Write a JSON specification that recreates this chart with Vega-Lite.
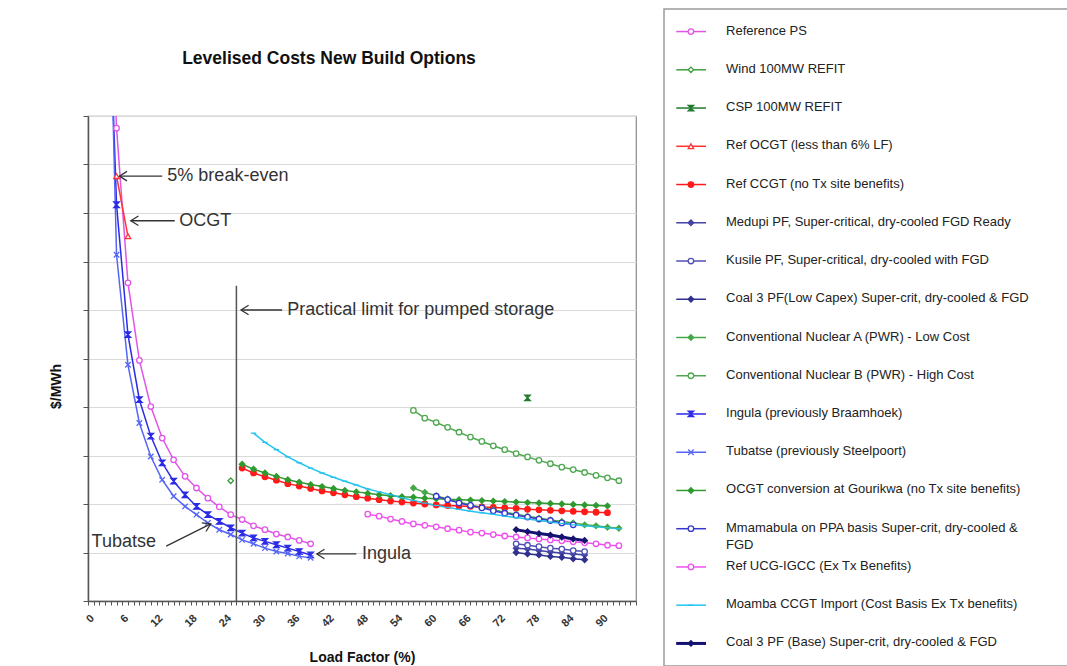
{
  "$schema": "https://vega.github.io/schema/vega-lite/v6.json",
  "background": "white",
  "padding": {"left": 48, "top": 8, "right": 2, "bottom": 0},
  "config": {
    "font": "Liberation Sans",
    "view": {"stroke": "#8a8a8a", "strokeWidth": 1.2},
    "axisX": {"labelOverlap": false},
    "concat": {"spacing": 18}
  },
  "datasets": {
    "pts": [
      {"series": "Reference PS", "load": 3, "cost": 1600},
      {"series": "Reference PS", "load": 5, "cost": 975},
      {"series": "Reference PS", "load": 7, "cost": 656},
      {"series": "Reference PS", "load": 9, "cost": 496},
      {"series": "Reference PS", "load": 11, "cost": 401},
      {"series": "Reference PS", "load": 13, "cost": 336},
      {"series": "Reference PS", "load": 15, "cost": 291},
      {"series": "Reference PS", "load": 17, "cost": 257},
      {"series": "Reference PS", "load": 19, "cost": 233},
      {"series": "Reference PS", "load": 21, "cost": 212},
      {"series": "Reference PS", "load": 23, "cost": 194},
      {"series": "Reference PS", "load": 25, "cost": 178},
      {"series": "Reference PS", "load": 27, "cost": 168},
      {"series": "Reference PS", "load": 29, "cost": 155},
      {"series": "Reference PS", "load": 31, "cost": 147},
      {"series": "Reference PS", "load": 33, "cost": 138},
      {"series": "Reference PS", "load": 35, "cost": 132},
      {"series": "Reference PS", "load": 37, "cost": 125},
      {"series": "Reference PS", "load": 39, "cost": 118},
      {"series": "Wind 100MW REFIT", "load": 25, "cost": 248},
      {"series": "CSP 100MW REFIT", "load": 77, "cost": 419},
      {"series": "Ref OCGT (less than 6% LF)", "load": 5, "cost": 876},
      {"series": "Ref OCGT (less than 6% LF)", "load": 7, "cost": 752},
      {"series": "Ref CCGT (no Tx site benefits)", "load": 27, "cost": 274},
      {"series": "Ref CCGT (no Tx site benefits)", "load": 29, "cost": 264},
      {"series": "Ref CCGT (no Tx site benefits)", "load": 31, "cost": 256},
      {"series": "Ref CCGT (no Tx site benefits)", "load": 33, "cost": 249},
      {"series": "Ref CCGT (no Tx site benefits)", "load": 35, "cost": 242},
      {"series": "Ref CCGT (no Tx site benefits)", "load": 37, "cost": 237},
      {"series": "Ref CCGT (no Tx site benefits)", "load": 39, "cost": 232},
      {"series": "Ref CCGT (no Tx site benefits)", "load": 41, "cost": 227},
      {"series": "Ref CCGT (no Tx site benefits)", "load": 43, "cost": 223},
      {"series": "Ref CCGT (no Tx site benefits)", "load": 45, "cost": 219},
      {"series": "Ref CCGT (no Tx site benefits)", "load": 47, "cost": 215},
      {"series": "Ref CCGT (no Tx site benefits)", "load": 49, "cost": 212},
      {"series": "Ref CCGT (no Tx site benefits)", "load": 51, "cost": 209},
      {"series": "Ref CCGT (no Tx site benefits)", "load": 53, "cost": 206},
      {"series": "Ref CCGT (no Tx site benefits)", "load": 55, "cost": 204},
      {"series": "Ref CCGT (no Tx site benefits)", "load": 57, "cost": 202},
      {"series": "Ref CCGT (no Tx site benefits)", "load": 59, "cost": 200},
      {"series": "Ref CCGT (no Tx site benefits)", "load": 61, "cost": 198},
      {"series": "Ref CCGT (no Tx site benefits)", "load": 63, "cost": 197},
      {"series": "Ref CCGT (no Tx site benefits)", "load": 65, "cost": 196},
      {"series": "Ref CCGT (no Tx site benefits)", "load": 67, "cost": 195},
      {"series": "Ref CCGT (no Tx site benefits)", "load": 69, "cost": 194},
      {"series": "Ref CCGT (no Tx site benefits)", "load": 71, "cost": 193},
      {"series": "Ref CCGT (no Tx site benefits)", "load": 73, "cost": 192},
      {"series": "Ref CCGT (no Tx site benefits)", "load": 75, "cost": 191},
      {"series": "Ref CCGT (no Tx site benefits)", "load": 77, "cost": 189},
      {"series": "Ref CCGT (no Tx site benefits)", "load": 79, "cost": 188},
      {"series": "Ref CCGT (no Tx site benefits)", "load": 81, "cost": 187},
      {"series": "Ref CCGT (no Tx site benefits)", "load": 83, "cost": 186},
      {"series": "Ref CCGT (no Tx site benefits)", "load": 85, "cost": 185},
      {"series": "Ref CCGT (no Tx site benefits)", "load": 87, "cost": 184},
      {"series": "Ref CCGT (no Tx site benefits)", "load": 89, "cost": 183},
      {"series": "Ref CCGT (no Tx site benefits)", "load": 91, "cost": 182},
      {"series": "Medupi PF, Super-critical, dry-cooled FGD Ready", "load": 75, "cost": 109},
      {"series": "Medupi PF, Super-critical, dry-cooled FGD Ready", "load": 77, "cost": 107},
      {"series": "Medupi PF, Super-critical, dry-cooled FGD Ready", "load": 79, "cost": 104},
      {"series": "Medupi PF, Super-critical, dry-cooled FGD Ready", "load": 81, "cost": 101},
      {"series": "Medupi PF, Super-critical, dry-cooled FGD Ready", "load": 83, "cost": 99},
      {"series": "Medupi PF, Super-critical, dry-cooled FGD Ready", "load": 85, "cost": 97},
      {"series": "Medupi PF, Super-critical, dry-cooled FGD Ready", "load": 87, "cost": 95},
      {"series": "Kusile PF, Super-critical, dry-cooled with FGD", "load": 75, "cost": 118},
      {"series": "Kusile PF, Super-critical, dry-cooled with FGD", "load": 77, "cost": 115},
      {"series": "Kusile PF, Super-critical, dry-cooled with FGD", "load": 79, "cost": 112},
      {"series": "Kusile PF, Super-critical, dry-cooled with FGD", "load": 81, "cost": 109},
      {"series": "Kusile PF, Super-critical, dry-cooled with FGD", "load": 83, "cost": 107},
      {"series": "Kusile PF, Super-critical, dry-cooled with FGD", "load": 85, "cost": 104},
      {"series": "Kusile PF, Super-critical, dry-cooled with FGD", "load": 87, "cost": 102},
      {"series": "Coal 3 PF(Low Capex) Super-crit, dry-cooled & FGD", "load": 75, "cost": 100},
      {"series": "Coal 3 PF(Low Capex) Super-crit, dry-cooled & FGD", "load": 77, "cost": 97},
      {"series": "Coal 3 PF(Low Capex) Super-crit, dry-cooled & FGD", "load": 79, "cost": 95},
      {"series": "Coal 3 PF(Low Capex) Super-crit, dry-cooled & FGD", "load": 81, "cost": 92},
      {"series": "Coal 3 PF(Low Capex) Super-crit, dry-cooled & FGD", "load": 83, "cost": 90},
      {"series": "Coal 3 PF(Low Capex) Super-crit, dry-cooled & FGD", "load": 85, "cost": 87},
      {"series": "Coal 3 PF(Low Capex) Super-crit, dry-cooled & FGD", "load": 87, "cost": 85},
      {"series": "Conventional Nuclear A (PWR) - Low Cost", "load": 57, "cost": 233},
      {"series": "Conventional Nuclear A (PWR) - Low Cost", "load": 59, "cost": 224},
      {"series": "Conventional Nuclear A (PWR) - Low Cost", "load": 61, "cost": 217},
      {"series": "Conventional Nuclear A (PWR) - Low Cost", "load": 63, "cost": 210},
      {"series": "Conventional Nuclear A (PWR) - Low Cost", "load": 65, "cost": 204},
      {"series": "Conventional Nuclear A (PWR) - Low Cost", "load": 67, "cost": 198},
      {"series": "Conventional Nuclear A (PWR) - Low Cost", "load": 69, "cost": 193},
      {"series": "Conventional Nuclear A (PWR) - Low Cost", "load": 71, "cost": 188},
      {"series": "Conventional Nuclear A (PWR) - Low Cost", "load": 73, "cost": 183},
      {"series": "Conventional Nuclear A (PWR) - Low Cost", "load": 75, "cost": 179},
      {"series": "Conventional Nuclear A (PWR) - Low Cost", "load": 77, "cost": 175},
      {"series": "Conventional Nuclear A (PWR) - Low Cost", "load": 79, "cost": 171},
      {"series": "Conventional Nuclear A (PWR) - Low Cost", "load": 81, "cost": 167},
      {"series": "Conventional Nuclear A (PWR) - Low Cost", "load": 83, "cost": 164},
      {"series": "Conventional Nuclear A (PWR) - Low Cost", "load": 85, "cost": 161},
      {"series": "Conventional Nuclear A (PWR) - Low Cost", "load": 87, "cost": 157},
      {"series": "Conventional Nuclear A (PWR) - Low Cost", "load": 89, "cost": 155},
      {"series": "Conventional Nuclear A (PWR) - Low Cost", "load": 91, "cost": 152},
      {"series": "Conventional Nuclear A (PWR) - Low Cost", "load": 93, "cost": 150},
      {"series": "Conventional Nuclear B (PWR) - High Cost", "load": 57, "cost": 393},
      {"series": "Conventional Nuclear B (PWR) - High Cost", "load": 59, "cost": 377},
      {"series": "Conventional Nuclear B (PWR) - High Cost", "load": 61, "cost": 368},
      {"series": "Conventional Nuclear B (PWR) - High Cost", "load": 63, "cost": 358},
      {"series": "Conventional Nuclear B (PWR) - High Cost", "load": 65, "cost": 348},
      {"series": "Conventional Nuclear B (PWR) - High Cost", "load": 67, "cost": 338},
      {"series": "Conventional Nuclear B (PWR) - High Cost", "load": 69, "cost": 329},
      {"series": "Conventional Nuclear B (PWR) - High Cost", "load": 71, "cost": 320},
      {"series": "Conventional Nuclear B (PWR) - High Cost", "load": 73, "cost": 312},
      {"series": "Conventional Nuclear B (PWR) - High Cost", "load": 75, "cost": 304},
      {"series": "Conventional Nuclear B (PWR) - High Cost", "load": 77, "cost": 297},
      {"series": "Conventional Nuclear B (PWR) - High Cost", "load": 79, "cost": 290},
      {"series": "Conventional Nuclear B (PWR) - High Cost", "load": 81, "cost": 283},
      {"series": "Conventional Nuclear B (PWR) - High Cost", "load": 83, "cost": 276},
      {"series": "Conventional Nuclear B (PWR) - High Cost", "load": 85, "cost": 271},
      {"series": "Conventional Nuclear B (PWR) - High Cost", "load": 87, "cost": 265},
      {"series": "Conventional Nuclear B (PWR) - High Cost", "load": 89, "cost": 259},
      {"series": "Conventional Nuclear B (PWR) - High Cost", "load": 91, "cost": 254},
      {"series": "Conventional Nuclear B (PWR) - High Cost", "load": 93, "cost": 248},
      {"series": "Ingula (previously Braamhoek)", "load": 3, "cost": 1500},
      {"series": "Ingula (previously Braamhoek)", "load": 5, "cost": 817},
      {"series": "Ingula (previously Braamhoek)", "load": 7, "cost": 549},
      {"series": "Ingula (previously Braamhoek)", "load": 9, "cost": 415},
      {"series": "Ingula (previously Braamhoek)", "load": 11, "cost": 340},
      {"series": "Ingula (previously Braamhoek)", "load": 13, "cost": 285},
      {"series": "Ingula (previously Braamhoek)", "load": 15, "cost": 247},
      {"series": "Ingula (previously Braamhoek)", "load": 17, "cost": 219},
      {"series": "Ingula (previously Braamhoek)", "load": 19, "cost": 195},
      {"series": "Ingula (previously Braamhoek)", "load": 21, "cost": 178},
      {"series": "Ingula (previously Braamhoek)", "load": 23, "cost": 164},
      {"series": "Ingula (previously Braamhoek)", "load": 25, "cost": 151},
      {"series": "Ingula (previously Braamhoek)", "load": 27, "cost": 140},
      {"series": "Ingula (previously Braamhoek)", "load": 29, "cost": 130},
      {"series": "Ingula (previously Braamhoek)", "load": 31, "cost": 123},
      {"series": "Ingula (previously Braamhoek)", "load": 33, "cost": 116},
      {"series": "Ingula (previously Braamhoek)", "load": 35, "cost": 109},
      {"series": "Ingula (previously Braamhoek)", "load": 37, "cost": 102},
      {"series": "Ingula (previously Braamhoek)", "load": 39, "cost": 95},
      {"series": "Tubatse (previously Steelpoort)", "load": 3, "cost": 1650},
      {"series": "Tubatse (previously Steelpoort)", "load": 5, "cost": 714},
      {"series": "Tubatse (previously Steelpoort)", "load": 7, "cost": 487},
      {"series": "Tubatse (previously Steelpoort)", "load": 9, "cost": 367},
      {"series": "Tubatse (previously Steelpoort)", "load": 11, "cost": 298},
      {"series": "Tubatse (previously Steelpoort)", "load": 13, "cost": 250},
      {"series": "Tubatse (previously Steelpoort)", "load": 15, "cost": 216},
      {"series": "Tubatse (previously Steelpoort)", "load": 17, "cost": 195},
      {"series": "Tubatse (previously Steelpoort)", "load": 19, "cost": 178},
      {"series": "Tubatse (previously Steelpoort)", "load": 21, "cost": 161},
      {"series": "Tubatse (previously Steelpoort)", "load": 23, "cost": 147},
      {"series": "Tubatse (previously Steelpoort)", "load": 25, "cost": 137},
      {"series": "Tubatse (previously Steelpoort)", "load": 27, "cost": 126},
      {"series": "Tubatse (previously Steelpoort)", "load": 29, "cost": 118},
      {"series": "Tubatse (previously Steelpoort)", "load": 31, "cost": 109},
      {"series": "Tubatse (previously Steelpoort)", "load": 33, "cost": 102},
      {"series": "Tubatse (previously Steelpoort)", "load": 35, "cost": 98},
      {"series": "Tubatse (previously Steelpoort)", "load": 37, "cost": 92},
      {"series": "Tubatse (previously Steelpoort)", "load": 39, "cost": 89},
      {"series": "OCGT conversion at Gourikwa (no Tx site benefits)", "load": 27, "cost": 282},
      {"series": "OCGT conversion at Gourikwa (no Tx site benefits)", "load": 29, "cost": 272},
      {"series": "OCGT conversion at Gourikwa (no Tx site benefits)", "load": 31, "cost": 264},
      {"series": "OCGT conversion at Gourikwa (no Tx site benefits)", "load": 33, "cost": 257},
      {"series": "OCGT conversion at Gourikwa (no Tx site benefits)", "load": 35, "cost": 250},
      {"series": "OCGT conversion at Gourikwa (no Tx site benefits)", "load": 37, "cost": 245},
      {"series": "OCGT conversion at Gourikwa (no Tx site benefits)", "load": 39, "cost": 240},
      {"series": "OCGT conversion at Gourikwa (no Tx site benefits)", "load": 41, "cost": 236},
      {"series": "OCGT conversion at Gourikwa (no Tx site benefits)", "load": 43, "cost": 232},
      {"series": "OCGT conversion at Gourikwa (no Tx site benefits)", "load": 45, "cost": 228},
      {"series": "OCGT conversion at Gourikwa (no Tx site benefits)", "load": 47, "cost": 225},
      {"series": "OCGT conversion at Gourikwa (no Tx site benefits)", "load": 49, "cost": 222},
      {"series": "OCGT conversion at Gourikwa (no Tx site benefits)", "load": 51, "cost": 219},
      {"series": "OCGT conversion at Gourikwa (no Tx site benefits)", "load": 53, "cost": 217},
      {"series": "OCGT conversion at Gourikwa (no Tx site benefits)", "load": 55, "cost": 215},
      {"series": "OCGT conversion at Gourikwa (no Tx site benefits)", "load": 57, "cost": 214},
      {"series": "OCGT conversion at Gourikwa (no Tx site benefits)", "load": 59, "cost": 212},
      {"series": "OCGT conversion at Gourikwa (no Tx site benefits)", "load": 61, "cost": 211},
      {"series": "OCGT conversion at Gourikwa (no Tx site benefits)", "load": 63, "cost": 210},
      {"series": "OCGT conversion at Gourikwa (no Tx site benefits)", "load": 65, "cost": 209},
      {"series": "OCGT conversion at Gourikwa (no Tx site benefits)", "load": 67, "cost": 208},
      {"series": "OCGT conversion at Gourikwa (no Tx site benefits)", "load": 69, "cost": 207},
      {"series": "OCGT conversion at Gourikwa (no Tx site benefits)", "load": 71, "cost": 206},
      {"series": "OCGT conversion at Gourikwa (no Tx site benefits)", "load": 73, "cost": 205},
      {"series": "OCGT conversion at Gourikwa (no Tx site benefits)", "load": 75, "cost": 204},
      {"series": "OCGT conversion at Gourikwa (no Tx site benefits)", "load": 77, "cost": 203},
      {"series": "OCGT conversion at Gourikwa (no Tx site benefits)", "load": 79, "cost": 202},
      {"series": "OCGT conversion at Gourikwa (no Tx site benefits)", "load": 81, "cost": 201},
      {"series": "OCGT conversion at Gourikwa (no Tx site benefits)", "load": 83, "cost": 200},
      {"series": "OCGT conversion at Gourikwa (no Tx site benefits)", "load": 85, "cost": 199},
      {"series": "OCGT conversion at Gourikwa (no Tx site benefits)", "load": 87, "cost": 198},
      {"series": "OCGT conversion at Gourikwa (no Tx site benefits)", "load": 89, "cost": 197},
      {"series": "OCGT conversion at Gourikwa (no Tx site benefits)", "load": 91, "cost": 196},
      {"series": "Mmamabula on PPA basis Super-crit, dry-cooled & FGD", "load": 61, "cost": 216},
      {"series": "Mmamabula on PPA basis Super-crit, dry-cooled & FGD", "load": 63, "cost": 209},
      {"series": "Mmamabula on PPA basis Super-crit, dry-cooled & FGD", "load": 65, "cost": 202},
      {"series": "Mmamabula on PPA basis Super-crit, dry-cooled & FGD", "load": 67, "cost": 197},
      {"series": "Mmamabula on PPA basis Super-crit, dry-cooled & FGD", "load": 69, "cost": 192},
      {"series": "Mmamabula on PPA basis Super-crit, dry-cooled & FGD", "load": 71, "cost": 186},
      {"series": "Mmamabula on PPA basis Super-crit, dry-cooled & FGD", "load": 73, "cost": 181},
      {"series": "Mmamabula on PPA basis Super-crit, dry-cooled & FGD", "load": 75, "cost": 177},
      {"series": "Mmamabula on PPA basis Super-crit, dry-cooled & FGD", "load": 77, "cost": 173},
      {"series": "Mmamabula on PPA basis Super-crit, dry-cooled & FGD", "load": 79, "cost": 169},
      {"series": "Mmamabula on PPA basis Super-crit, dry-cooled & FGD", "load": 81, "cost": 166},
      {"series": "Mmamabula on PPA basis Super-crit, dry-cooled & FGD", "load": 83, "cost": 161},
      {"series": "Mmamabula on PPA basis Super-crit, dry-cooled & FGD", "load": 85, "cost": 157},
      {"series": "Ref UCG-IGCC (Ex Tx Benefits)", "load": 49, "cost": 179},
      {"series": "Ref UCG-IGCC (Ex Tx Benefits)", "load": 51, "cost": 175},
      {"series": "Ref UCG-IGCC (Ex Tx Benefits)", "load": 53, "cost": 169},
      {"series": "Ref UCG-IGCC (Ex Tx Benefits)", "load": 55, "cost": 164},
      {"series": "Ref UCG-IGCC (Ex Tx Benefits)", "load": 57, "cost": 159},
      {"series": "Ref UCG-IGCC (Ex Tx Benefits)", "load": 59, "cost": 156},
      {"series": "Ref UCG-IGCC (Ex Tx Benefits)", "load": 61, "cost": 153},
      {"series": "Ref UCG-IGCC (Ex Tx Benefits)", "load": 63, "cost": 149},
      {"series": "Ref UCG-IGCC (Ex Tx Benefits)", "load": 65, "cost": 146},
      {"series": "Ref UCG-IGCC (Ex Tx Benefits)", "load": 67, "cost": 142},
      {"series": "Ref UCG-IGCC (Ex Tx Benefits)", "load": 69, "cost": 140},
      {"series": "Ref UCG-IGCC (Ex Tx Benefits)", "load": 71, "cost": 137},
      {"series": "Ref UCG-IGCC (Ex Tx Benefits)", "load": 73, "cost": 134},
      {"series": "Ref UCG-IGCC (Ex Tx Benefits)", "load": 75, "cost": 132},
      {"series": "Ref UCG-IGCC (Ex Tx Benefits)", "load": 77, "cost": 130},
      {"series": "Ref UCG-IGCC (Ex Tx Benefits)", "load": 79, "cost": 128},
      {"series": "Ref UCG-IGCC (Ex Tx Benefits)", "load": 81, "cost": 126},
      {"series": "Ref UCG-IGCC (Ex Tx Benefits)", "load": 83, "cost": 124},
      {"series": "Ref UCG-IGCC (Ex Tx Benefits)", "load": 85, "cost": 122},
      {"series": "Ref UCG-IGCC (Ex Tx Benefits)", "load": 87, "cost": 120},
      {"series": "Ref UCG-IGCC (Ex Tx Benefits)", "load": 89, "cost": 118},
      {"series": "Ref UCG-IGCC (Ex Tx Benefits)", "load": 91, "cost": 115},
      {"series": "Ref UCG-IGCC (Ex Tx Benefits)", "load": 93, "cost": 114},
      {"series": "Moamba CCGT Import (Cost Basis Ex Tx benefits)", "load": 29, "cost": 346},
      {"series": "Moamba CCGT Import (Cost Basis Ex Tx benefits)", "load": 31, "cost": 327},
      {"series": "Moamba CCGT Import (Cost Basis Ex Tx benefits)", "load": 33, "cost": 312},
      {"series": "Moamba CCGT Import (Cost Basis Ex Tx benefits)", "load": 35, "cost": 297},
      {"series": "Moamba CCGT Import (Cost Basis Ex Tx benefits)", "load": 37, "cost": 285},
      {"series": "Moamba CCGT Import (Cost Basis Ex Tx benefits)", "load": 39, "cost": 274},
      {"series": "Moamba CCGT Import (Cost Basis Ex Tx benefits)", "load": 41, "cost": 264},
      {"series": "Moamba CCGT Import (Cost Basis Ex Tx benefits)", "load": 43, "cost": 255},
      {"series": "Moamba CCGT Import (Cost Basis Ex Tx benefits)", "load": 45, "cost": 247},
      {"series": "Moamba CCGT Import (Cost Basis Ex Tx benefits)", "load": 47, "cost": 239},
      {"series": "Moamba CCGT Import (Cost Basis Ex Tx benefits)", "load": 49, "cost": 231},
      {"series": "Moamba CCGT Import (Cost Basis Ex Tx benefits)", "load": 51, "cost": 225},
      {"series": "Moamba CCGT Import (Cost Basis Ex Tx benefits)", "load": 53, "cost": 219},
      {"series": "Moamba CCGT Import (Cost Basis Ex Tx benefits)", "load": 55, "cost": 213},
      {"series": "Moamba CCGT Import (Cost Basis Ex Tx benefits)", "load": 57, "cost": 207},
      {"series": "Moamba CCGT Import (Cost Basis Ex Tx benefits)", "load": 59, "cost": 202},
      {"series": "Moamba CCGT Import (Cost Basis Ex Tx benefits)", "load": 61, "cost": 197},
      {"series": "Moamba CCGT Import (Cost Basis Ex Tx benefits)", "load": 63, "cost": 193},
      {"series": "Moamba CCGT Import (Cost Basis Ex Tx benefits)", "load": 65, "cost": 189},
      {"series": "Moamba CCGT Import (Cost Basis Ex Tx benefits)", "load": 67, "cost": 185},
      {"series": "Moamba CCGT Import (Cost Basis Ex Tx benefits)", "load": 69, "cost": 182},
      {"series": "Moamba CCGT Import (Cost Basis Ex Tx benefits)", "load": 71, "cost": 179},
      {"series": "Moamba CCGT Import (Cost Basis Ex Tx benefits)", "load": 73, "cost": 175},
      {"series": "Moamba CCGT Import (Cost Basis Ex Tx benefits)", "load": 75, "cost": 172},
      {"series": "Moamba CCGT Import (Cost Basis Ex Tx benefits)", "load": 77, "cost": 169},
      {"series": "Moamba CCGT Import (Cost Basis Ex Tx benefits)", "load": 79, "cost": 166},
      {"series": "Moamba CCGT Import (Cost Basis Ex Tx benefits)", "load": 81, "cost": 163},
      {"series": "Moamba CCGT Import (Cost Basis Ex Tx benefits)", "load": 83, "cost": 160},
      {"series": "Moamba CCGT Import (Cost Basis Ex Tx benefits)", "load": 85, "cost": 157},
      {"series": "Moamba CCGT Import (Cost Basis Ex Tx benefits)", "load": 87, "cost": 155},
      {"series": "Moamba CCGT Import (Cost Basis Ex Tx benefits)", "load": 89, "cost": 153},
      {"series": "Moamba CCGT Import (Cost Basis Ex Tx benefits)", "load": 91, "cost": 151},
      {"series": "Moamba CCGT Import (Cost Basis Ex Tx benefits)", "load": 93, "cost": 149},
      {"series": "Coal 3 PF (Base) Super-crit, dry-cooled & FGD", "load": 75, "cost": 147},
      {"series": "Coal 3 PF (Base) Super-crit, dry-cooled & FGD", "load": 77, "cost": 143},
      {"series": "Coal 3 PF (Base) Super-crit, dry-cooled & FGD", "load": 79, "cost": 139},
      {"series": "Coal 3 PF (Base) Super-crit, dry-cooled & FGD", "load": 81, "cost": 136},
      {"series": "Coal 3 PF (Base) Super-crit, dry-cooled & FGD", "load": 83, "cost": 132},
      {"series": "Coal 3 PF (Base) Super-crit, dry-cooled & FGD", "load": 85, "cost": 128},
      {"series": "Coal 3 PF (Base) Super-crit, dry-cooled & FGD", "load": 87, "cost": 125}
    ],
    "legend": [
      {"series": "Reference PS", "label": "Reference PS"},
      {"series": "Wind 100MW REFIT", "label": "Wind 100MW REFIT"},
      {"series": "CSP 100MW REFIT", "label": "CSP 100MW REFIT"},
      {"series": "Ref OCGT (less than 6% LF)", "label": "Ref OCGT (less than 6% LF)"},
      {"series": "Ref CCGT (no Tx site benefits)", "label": "Ref CCGT (no Tx site benefits)"},
      {"series": "Medupi PF, Super-critical, dry-cooled FGD Ready", "label": "Medupi PF, Super-critical, dry-cooled FGD Ready"},
      {"series": "Kusile PF, Super-critical, dry-cooled with FGD", "label": "Kusile PF, Super-critical, dry-cooled with FGD"},
      {"series": "Coal 3 PF(Low Capex) Super-crit, dry-cooled & FGD", "label": "Coal 3 PF(Low Capex) Super-crit, dry-cooled & FGD"},
      {"series": "Conventional Nuclear A (PWR) - Low Cost", "label": "Conventional Nuclear A (PWR) - Low Cost"},
      {"series": "Conventional Nuclear B (PWR) - High Cost", "label": "Conventional Nuclear B (PWR) - High Cost"},
      {"series": "Ingula (previously Braamhoek)", "label": "Ingula (previously Braamhoek)"},
      {"series": "Tubatse (previously Steelpoort)", "label": "Tubatse (previously Steelpoort)"},
      {"series": "OCGT conversion at Gourikwa (no Tx site benefits)", "label": "OCGT conversion at Gourikwa (no Tx site benefits)"},
      {"series": "Mmamabula on PPA basis Super-crit, dry-cooled & FGD", "label": "Mmamabula on PPA basis Super-crit, dry-cooled &\nFGD"},
      {"series": "Ref UCG-IGCC (Ex Tx Benefits)", "label": "Ref UCG-IGCC (Ex Tx Benefits)"},
      {"series": "Moamba CCGT Import (Cost Basis Ex Tx benefits)", "label": "Moamba CCGT Import (Cost Basis Ex Tx benefits)"},
      {"series": "Coal 3 PF (Base) Super-crit, dry-cooled & FGD", "label": "Coal 3 PF (Base) Super-crit, dry-cooled & FGD"}
    ],
    "notes": [
      {"note": "5% break-even", "load": 13.9, "cost": 876, "from": 13.0, "to": 5.5},
      {"note": "OCGT", "load": 16.0, "cost": 784, "from": 15.2, "to": 7.5},
      {"note": "Practical limit for pumped storage", "load": 34.9, "cost": 600, "from": 34.0, "to": 26.8},
      {"note": "Ingula", "load": 48.0, "cost": 97, "from": 47.0, "to": 40.1}
    ]
  },
  "hconcat": [
    {
      "spacing": 5,
      "vconcat": [
        {
          "width": 548,
          "height": 100,
          "view": {"stroke": null},
          "data": {"values": [{}]},
          "mark": {"type": "text", "text": "Levelised Costs New Build Options", "fontSize": 17.5, "fontWeight": "bold", "color": "#111", "dx": -33},
          "encoding": {}
        },
        {
          "width": 548,
          "height": 485,
          "layer": [
            {
              "data": {"name": "pts"},
              "mark": {"type": "line", "clip": true, "strokeWidth": 1.5},
              "encoding": {
                "x": {"field": "load", "type": "quantitative",
                  "scale": {"domain": [0, 96], "nice": false, "zero": false},
                  "axis": {"title": "Load Factor (%)", "titleFontSize": 14, "titleFontWeight": "bold", "titleColor": "#111", "titlePadding": 22,
                    "values": [0,1,2,3,4,5,6,7,8,9,10,11,12,13,14,15,16,17,18,19,20,21,22,23,24,25,26,27,28,29,30,31,32,33,34,35,36,37,38,39,40,41,42,43,44,45,46,47,48,49,50,51,52,53,54,55,56,57,58,59,60,61,62,63,64,65,66,67,68,69,70,71,72,73,74,75,76,77,78,79,80,81,82,83,84,85,86,87,88,89,90,91,92,93,94,95,96],
                    "tickCount": 200, "format": "d",
                    "labelExpr": "datum.value % 6 === 0 && datum.value <= 90 ? datum.label : ''",
                    "labelAngle": -45, "labelFontSize": 11, "labelFontWeight": "bold", "labelColor": "#333", "labelOverlap": false, "labelBound": false, "labelPadding": 7,
                    "tickSize": 4, "tickColor": "#555", "domainColor": "#555", "domainWidth": 1.5, "grid": false}},
                "y": {"field": "cost", "type": "quantitative",
                  "scale": {"domain": [0, 1000], "nice": false, "zero": true},
                  "axis": {"title": "$/MWh", "titleFontSize": 14, "titleFontWeight": "bold", "titleColor": "#111", "titlePadding": 19, "titleY": 270,
                    "labels": false, "values": [0,100,200,300,400,500,600,700,800,900,1000], "tickCount": 50,
                    "tickSize": 5, "tickColor": "#555", "domainColor": "#555", "domainWidth": 1.5, "grid": true, "gridColor": "#dadada"}},
                "stroke": {"field": "series", "type": "nominal", "legend": null,
                  "scale": {"domain": ["Reference PS", "Wind 100MW REFIT", "CSP 100MW REFIT", "Ref OCGT (less than 6% LF)", "Ref CCGT (no Tx site benefits)", "Medupi PF, Super-critical, dry-cooled FGD Ready", "Kusile PF, Super-critical, dry-cooled with FGD", "Coal 3 PF(Low Capex) Super-crit, dry-cooled & FGD", "Conventional Nuclear A (PWR) - Low Cost", "Conventional Nuclear B (PWR) - High Cost", "Ingula (previously Braamhoek)", "Tubatse (previously Steelpoort)", "OCGT conversion at Gourikwa (no Tx site benefits)", "Mmamabula on PPA basis Super-crit, dry-cooled & FGD", "Ref UCG-IGCC (Ex Tx Benefits)", "Moamba CCGT Import (Cost Basis Ex Tx benefits)", "Coal 3 PF (Base) Super-crit, dry-cooled & FGD"],
                    "range": ["#e055e8", "#3f9f3f", "#1e7b2e", "#ff3333", "#ff1a1a", "#4545a5", "#5050b5", "#303090", "#45a845", "#4fa84f", "#2b2be6", "#5566f5", "#2f9a2f", "#3838d0", "#ee4fee", "#25c4ee", "#141470"]}}
              }
            },
            {
              "data": {"name": "pts"},
              "transform": [{"filter": "datum.series === 'Coal 3 PF (Base) Super-crit, dry-cooled & FGD'"}],
              "mark": {"type": "line", "clip": true, "strokeWidth": 3, "color": "#141470"},
              "encoding": {
                "x": {"field": "load", "type": "quantitative"},
                "y": {"field": "cost", "type": "quantitative"}
              }
            },
            {
              "data": {"name": "pts"},
              "mark": {"type": "point", "clip": true, "size": 30, "strokeWidth": 1.3, "opacity": 1},
              "encoding": {
                "x": {"field": "load", "type": "quantitative"},
                "y": {"field": "cost", "type": "quantitative"},
                "stroke": {"field": "series", "type": "nominal", "legend": null},
                "fill": {"field": "series", "type": "nominal", "legend": null,
                  "scale": {"domain": ["Reference PS", "Wind 100MW REFIT", "CSP 100MW REFIT", "Ref OCGT (less than 6% LF)", "Ref CCGT (no Tx site benefits)", "Medupi PF, Super-critical, dry-cooled FGD Ready", "Kusile PF, Super-critical, dry-cooled with FGD", "Coal 3 PF(Low Capex) Super-crit, dry-cooled & FGD", "Conventional Nuclear A (PWR) - Low Cost", "Conventional Nuclear B (PWR) - High Cost", "Ingula (previously Braamhoek)", "Tubatse (previously Steelpoort)", "OCGT conversion at Gourikwa (no Tx site benefits)", "Mmamabula on PPA basis Super-crit, dry-cooled & FGD", "Ref UCG-IGCC (Ex Tx Benefits)", "Moamba CCGT Import (Cost Basis Ex Tx benefits)", "Coal 3 PF (Base) Super-crit, dry-cooled & FGD"],
                    "range": ["#ffffff", "#ffffff", "#1e7b2e", "#ffffff", "#ff1a1a", "#4545a5", "#ffffff", "#303090", "#45a845", "#ffffff", "#2b2be6", "#ffffff", "#2f9a2f", "#ffffff", "#ffffff", "#25c4ee", "#141470"]}},
                "shape": {"field": "series", "type": "nominal", "legend": null,
                  "scale": {"domain": ["Reference PS", "Wind 100MW REFIT", "CSP 100MW REFIT", "Ref OCGT (less than 6% LF)", "Ref CCGT (no Tx site benefits)", "Medupi PF, Super-critical, dry-cooled FGD Ready", "Kusile PF, Super-critical, dry-cooled with FGD", "Coal 3 PF(Low Capex) Super-crit, dry-cooled & FGD", "Conventional Nuclear A (PWR) - Low Cost", "Conventional Nuclear B (PWR) - High Cost", "Ingula (previously Braamhoek)", "Tubatse (previously Steelpoort)", "OCGT conversion at Gourikwa (no Tx site benefits)", "Mmamabula on PPA basis Super-crit, dry-cooled & FGD", "Ref UCG-IGCC (Ex Tx Benefits)", "Moamba CCGT Import (Cost Basis Ex Tx benefits)", "Coal 3 PF (Base) Super-crit, dry-cooled & FGD"],
                    "range": ["circle", "diamond", "M-1,-1L1,-1L-1,1L1,1Z", "triangle-up", "circle", "diamond", "circle", "diamond", "diamond", "circle", "M-1,-1L1,-1L-1,1L1,1Z", "M-1,-1L1,1M-1,1L1,-1", "diamond", "circle", "circle", "stroke", "diamond"]}}
              }
            },
            {
              "data": {"values": [{}]},
              "mark": {"type": "rule", "color": "#555", "strokeWidth": 1.5},
              "encoding": {"x": {"datum": 26, "type": "quantitative"}, "y": {"datum": 0, "type": "quantitative"}, "y2": {"datum": 650}}
            },
            {
              "data": {"name": "notes"},
              "mark": {"type": "rule", "color": "#333", "strokeWidth": 1.3},
              "encoding": {"x": {"field": "from", "type": "quantitative"}, "x2": {"field": "to"}, "y": {"field": "cost", "type": "quantitative"}}
            },
            {
              "data": {"name": "notes"},
              "mark": {"type": "point", "shape": "M1.6,-1L0,0L1.6,1", "size": 90, "filled": false, "color": "#333", "strokeWidth": 1.3, "opacity": 1},
              "encoding": {"x": {"field": "to", "type": "quantitative"}, "y": {"field": "cost", "type": "quantitative"}}
            },
            {
              "data": {"name": "notes"},
              "mark": {"type": "text", "align": "left", "baseline": "middle", "fontSize": 18, "color": "#333"},
              "encoding": {"x": {"field": "load", "type": "quantitative"}, "y": {"field": "cost", "type": "quantitative"}, "text": {"field": "note"}}
            },
            {
              "data": {"values": [{}]},
              "mark": {"type": "text", "align": "right", "baseline": "middle", "fontSize": 18, "color": "#333", "text": "Tubatse"},
              "encoding": {"x": {"datum": 11.9, "type": "quantitative"}, "y": {"datum": 121, "type": "quantitative"}}
            },
            {
              "data": {"values": [{}]},
              "mark": {"type": "rule", "color": "#333", "strokeWidth": 1.3},
              "encoding": {"x": {"datum": 13.7, "type": "quantitative"}, "y": {"datum": 113, "type": "quantitative"}, "x2": {"datum": 21.5}, "y2": {"datum": 159}}
            },
            {
              "data": {"values": [{}]},
              "mark": {"type": "point", "shape": "M1.6,-1L0,0L1.6,1", "size": 90, "filled": false, "color": "#333", "strokeWidth": 1.3, "opacity": 1, "angle": 154},
              "encoding": {"x": {"datum": 21.5, "type": "quantitative"}, "y": {"datum": 159, "type": "quantitative"}}
            }
          ]
        }
      ]
    },
    {
      "width": 408,
      "height": 657,
      "view": {"stroke": "#9a9a9a", "strokeWidth": 1.5},
      "data": {"name": "legend"},
      "encoding": {
        "y": {"field": "series", "type": "nominal", "axis": null,
          "scale": {"type": "point", "padding": 0.59, "domain": ["Reference PS", "Wind 100MW REFIT", "CSP 100MW REFIT", "Ref OCGT (less than 6% LF)", "Ref CCGT (no Tx site benefits)", "Medupi PF, Super-critical, dry-cooled FGD Ready", "Kusile PF, Super-critical, dry-cooled with FGD", "Coal 3 PF(Low Capex) Super-crit, dry-cooled & FGD", "Conventional Nuclear A (PWR) - Low Cost", "Conventional Nuclear B (PWR) - High Cost", "Ingula (previously Braamhoek)", "Tubatse (previously Steelpoort)", "OCGT conversion at Gourikwa (no Tx site benefits)", "Mmamabula on PPA basis Super-crit, dry-cooled & FGD", "Ref UCG-IGCC (Ex Tx Benefits)", "Moamba CCGT Import (Cost Basis Ex Tx benefits)", "Coal 3 PF (Base) Super-crit, dry-cooled & FGD"]}}
      },
      "layer": [
        {
          "mark": {"type": "rule", "strokeWidth": 1.5},
          "encoding": {
            "x": {"datum": 3, "type": "quantitative", "scale": {"domain": [0, 100], "nice": false}, "axis": null},
            "x2": {"datum": 10.3},
            "stroke": {"field": "series", "type": "nominal", "legend": null,
              "scale": {"domain": ["Reference PS", "Wind 100MW REFIT", "CSP 100MW REFIT", "Ref OCGT (less than 6% LF)", "Ref CCGT (no Tx site benefits)", "Medupi PF, Super-critical, dry-cooled FGD Ready", "Kusile PF, Super-critical, dry-cooled with FGD", "Coal 3 PF(Low Capex) Super-crit, dry-cooled & FGD", "Conventional Nuclear A (PWR) - Low Cost", "Conventional Nuclear B (PWR) - High Cost", "Ingula (previously Braamhoek)", "Tubatse (previously Steelpoort)", "OCGT conversion at Gourikwa (no Tx site benefits)", "Mmamabula on PPA basis Super-crit, dry-cooled & FGD", "Ref UCG-IGCC (Ex Tx Benefits)", "Moamba CCGT Import (Cost Basis Ex Tx benefits)", "Coal 3 PF (Base) Super-crit, dry-cooled & FGD"],
                "range": ["#e055e8", "#3f9f3f", "#1e7b2e", "#ff3333", "#ff1a1a", "#4545a5", "#5050b5", "#303090", "#45a845", "#4fa84f", "#2b2be6", "#5566f5", "#2f9a2f", "#3838d0", "#ee4fee", "#25c4ee", "#141470"]}}
          }
        },
        {
          "transform": [{"filter": "datum.series === 'Coal 3 PF (Base) Super-crit, dry-cooled & FGD'"}],
          "mark": {"type": "rule", "strokeWidth": 3, "color": "#141470"},
          "encoding": {"x": {"datum": 3, "type": "quantitative"}, "x2": {"datum": 10.3}}
        },
        {
          "mark": {"type": "point", "size": 30, "strokeWidth": 1.3, "opacity": 1},
          "encoding": {
            "x": {"datum": 6.6, "type": "quantitative"},
            "stroke": {"field": "series", "type": "nominal", "legend": null},
            "fill": {"field": "series", "type": "nominal", "legend": null,
              "scale": {"domain": ["Reference PS", "Wind 100MW REFIT", "CSP 100MW REFIT", "Ref OCGT (less than 6% LF)", "Ref CCGT (no Tx site benefits)", "Medupi PF, Super-critical, dry-cooled FGD Ready", "Kusile PF, Super-critical, dry-cooled with FGD", "Coal 3 PF(Low Capex) Super-crit, dry-cooled & FGD", "Conventional Nuclear A (PWR) - Low Cost", "Conventional Nuclear B (PWR) - High Cost", "Ingula (previously Braamhoek)", "Tubatse (previously Steelpoort)", "OCGT conversion at Gourikwa (no Tx site benefits)", "Mmamabula on PPA basis Super-crit, dry-cooled & FGD", "Ref UCG-IGCC (Ex Tx Benefits)", "Moamba CCGT Import (Cost Basis Ex Tx benefits)", "Coal 3 PF (Base) Super-crit, dry-cooled & FGD"],
                "range": ["#ffffff", "#ffffff", "#1e7b2e", "#ffffff", "#ff1a1a", "#4545a5", "#ffffff", "#303090", "#45a845", "#ffffff", "#2b2be6", "#ffffff", "#2f9a2f", "#ffffff", "#ffffff", "#25c4ee", "#141470"]}},
            "shape": {"field": "series", "type": "nominal", "legend": null,
              "scale": {"domain": ["Reference PS", "Wind 100MW REFIT", "CSP 100MW REFIT", "Ref OCGT (less than 6% LF)", "Ref CCGT (no Tx site benefits)", "Medupi PF, Super-critical, dry-cooled FGD Ready", "Kusile PF, Super-critical, dry-cooled with FGD", "Coal 3 PF(Low Capex) Super-crit, dry-cooled & FGD", "Conventional Nuclear A (PWR) - Low Cost", "Conventional Nuclear B (PWR) - High Cost", "Ingula (previously Braamhoek)", "Tubatse (previously Steelpoort)", "OCGT conversion at Gourikwa (no Tx site benefits)", "Mmamabula on PPA basis Super-crit, dry-cooled & FGD", "Ref UCG-IGCC (Ex Tx Benefits)", "Moamba CCGT Import (Cost Basis Ex Tx benefits)", "Coal 3 PF (Base) Super-crit, dry-cooled & FGD"],
                "range": ["circle", "diamond", "M-1,-1L1,-1L-1,1L1,1Z", "triangle-up", "circle", "diamond", "circle", "diamond", "diamond", "circle", "M-1,-1L1,-1L-1,1L1,1Z", "M-1,-1L1,1M-1,1L1,-1", "diamond", "circle", "circle", "stroke", "diamond"]}}
          }
        },
        {
          "mark": {"type": "text", "align": "left", "baseline": "top", "dy": -7, "fontSize": 13, "lineHeight": 17, "lineBreak": "\n", "color": "#222"},
          "encoding": {
            "x": {"datum": 15.2, "type": "quantitative"},
            "text": {"field": "label", "type": "nominal"}
          }
        }
      ]
    }
  ]
}
